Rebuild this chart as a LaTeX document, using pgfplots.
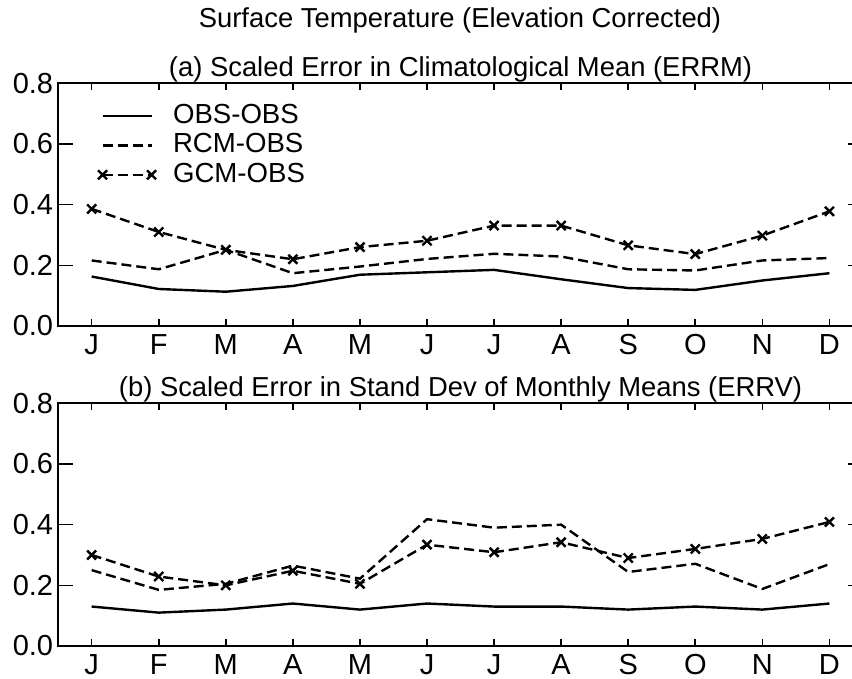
\documentclass[border=0pt]{standalone}
\usepackage{pgfplots}
\pgfplotsset{compat=1.18}
\usepackage{fontspec}
\setmainfont{Liberation Sans}
\begin{document}
\begin{tikzpicture}
\useasboundingbox (0,0) rectangle (426pt,339.5pt);
\pgfplotsset{
  panel/.style={
    at={(29.075pt,#1)}, anchor=south west,
    scale only axis, width=402.4pt, height=121.35pt,
    xmin=0.5, xmax=12.5, ymin=0, ymax=0.8,
    xtick={1,...,12}, xticklabels={J,F,M,A,M,J,J,A,S,O,N,D},
    ytick={0,0.2,0.4,0.6,0.8},
    yticklabel={\pgfmathprintnumber[fixed,fixed zerofill,precision=1,assume math mode=true]{\tick}},
    ticklabel style={font=\fontsize{14.5}{16}\selectfont},
    yticklabel style={xshift=1pt},
    xticklabel style={yshift=-0.5pt},
    tick align=inside,
    xtick style={/pgfplots/major tick length=3.5pt, line width=0.8pt, black},
    ytick style={/pgfplots/major tick length=7.5pt, line width=0.8pt, black},
    axis line style={line width=0.9pt},
    title style={at={(0.5,1)}, anchor=base, yshift=-2.7pt, font=\fontsize{13.7}{16}\selectfont},
  },
  obs/.style={black, line width=1.2pt},
  rcm/.style={black, line width=1.2pt, dash pattern=on 5pt off 2.5pt},
  gcm/.style={black, line width=1.2pt, dash pattern=on 5pt off 2.5pt, mark=x, mark size=3.2pt, mark options={solid}},
}
\node[anchor=base, font=\fontsize{13.7}{16}\selectfont] at (230pt,325.5pt) {Surface Temperature (Elevation Corrected)};

\begin{axis}[panel=176.5pt,
  title={(a) Scaled Error in Climatological Mean (ERRM)},
  legend cell align=left,
  legend style={at={(0.0495,0.9164)}, anchor=north west, draw=none, fill=none,
    inner sep=0pt, outer sep=0pt, font=\fontsize{13.8}{16}\selectfont,
    nodes={inner sep=0pt, text height=9.9pt, text depth=2.5pt},
    row sep=2.3pt, column sep=8.5pt},
  legend image code/.code={\draw[#1] plot coordinates {(0pt,0pt) (24.5pt,0pt)};},
]
\addplot[obs] coordinates {(1,0.163) (2,0.122) (3,0.113) (4,0.132) (5,0.169) (6,0.177) (7,0.185) (8,0.154) (9,0.125) (10,0.119) (11,0.150) (12,0.174)};
\addlegendentry{OBS-OBS}
\addplot[rcm] coordinates {(1,0.216) (2,0.187) (3,0.251) (4,0.174) (5,0.196) (6,0.221) (7,0.238) (8,0.229) (9,0.187) (10,0.183) (11,0.216) (12,0.224)};
\addlegendentry{RCM-OBS}
\addplot[gcm] coordinates {(1,0.386) (2,0.310) (3,0.251) (4,0.220) (5,0.260) (6,0.281) (7,0.331) (8,0.331) (9,0.266) (10,0.237) (11,0.298) (12,0.378)};
\addlegendentry{GCM-OBS}
\end{axis}

\begin{axis}[panel=16.5pt,
  title={(b) Scaled Error in Stand Dev of Monthly Means (ERRV)},
]
\addplot[obs] coordinates {(1,0.13) (2,0.11) (3,0.12) (4,0.14) (5,0.12) (6,0.14) (7,0.13) (8,0.13) (9,0.12) (10,0.13) (11,0.12) (12,0.14)};
\addplot[rcm] coordinates {(1,0.25) (2,0.185) (3,0.205) (4,0.265) (5,0.222) (6,0.418) (7,0.39) (8,0.40) (9,0.244) (10,0.271) (11,0.188) (12,0.27)};
\addplot[gcm] coordinates {(1,0.30) (2,0.229) (3,0.200) (4,0.248) (5,0.205) (6,0.334) (7,0.309) (8,0.342) (9,0.290) (10,0.320) (11,0.353) (12,0.409)};
\end{axis}
\end{tikzpicture}
\end{document}
